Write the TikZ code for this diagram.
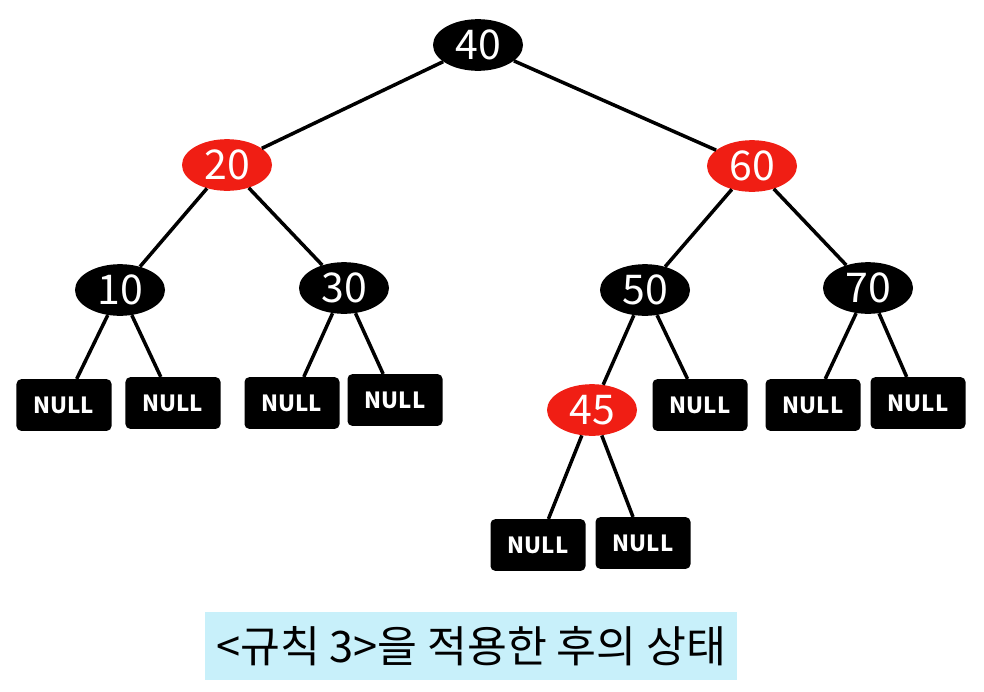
\documentclass[tikz,border=0pt]{standalone}
\usepackage{fontspec}
\setmainfont{Noto Sans CJK KR}
\usepackage{tikz}
\usetikzlibrary{calc,positioning,shapes.geometric}
\usepackage{xcolor}
\definecolor{rbred}{RGB}{240,30,20}
\definecolor{capblue}{RGB}{200,240,250}

\tikzset{
  blacknode/.style={ellipse, fill=black, text=white, minimum width=2.7cm, minimum height=1.55cm, inner sep=0pt, font=\fontsize{35}{35}\selectfont},
  rednode/.style={blacknode, fill=rbred},
  nullbox/.style={rectangle, rounded corners=4pt, fill=black, text=white, minimum width=2.85cm, minimum height=1.55cm, inner sep=0pt, font=\bfseries\fontsize{19}{19}\selectfont},
  edge/.style={line width=3pt}
}

\begin{document}
\begin{tikzpicture}[x=0.03cm,y=-0.03cm]
\useasboundingbox (0,0) rectangle (984,691);
% Draw tree nodes
\node[blacknode] (n40) at (478,45) {40};
\node[rednode] (n20) at (227,165) {20};
\node[rednode] (n60) at (752,166) {60};
\node[blacknode] (n10) at (120,290) {10};
\node[blacknode] (n30) at (344,288) {30};
\node[blacknode] (n50) at (645,290) {50};
\node[blacknode] (n70) at (868,288) {70};
\node[rednode] (n45) at (592,410) {45};
% NULL leaves
\node[nullbox] (l1) at (64,405) {NULL};
\node[nullbox] (l2) at (173,403) {NULL};
\node[nullbox] (l3) at (292,403) {NULL};
\node[nullbox] (l4) at (395,400) {NULL};
\node[nullbox] (l5) at (700,405) {NULL};
\node[nullbox] (l6) at (813,405) {NULL};
\node[nullbox] (l7) at (918,403) {NULL};
\node[nullbox] (l8) at (538,545) {NULL};
\node[nullbox] (l9) at (643,543) {NULL};
% Edges
\foreach \a/\b in {n40/n20,n40/n60,n20/n10,n20/n30,n60/n50,n60/n70,n50/n45,
                   n10/l1,n10/l2,n30/l3,n30/l4,n50/l5,n70/l6,n70/l7,n45/l8,n45/l9} {
    \draw[edge] (\a) -- (\b);
}
% Caption
\node[fill=capblue, inner sep=0pt, minimum width=15.96cm, minimum height=2.04cm, font=\fontsize{37}{37}\selectfont] (cap) at (471,646) {<규칙 3>을 적용한 후의 상태};
\end{tikzpicture}
\end{document}
